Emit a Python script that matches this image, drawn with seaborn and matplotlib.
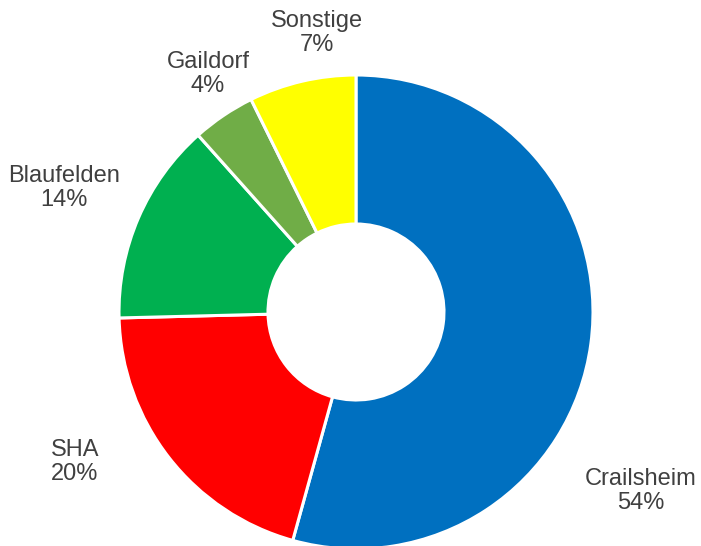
import matplotlib
matplotlib.use("Agg")
import matplotlib.pyplot as plt
import seaborn as sns

# Share of the total by location
locations = ["Crailsheim", "SHA", "Blaufelden", "Gaildorf", "Sonstige"]
shares = [54.3, 20.3, 13.8, 4.3, 7.3]
colors = ["#0070C0", "#FF0000", "#00B050", "#70AD47", "#FFFF00"]

sns.set_theme(style="white")
plt.rcParams["font.family"] = ["Liberation Sans", "DejaVu Sans"]

W, H, DPI = 701, 546, 100
fig = plt.figure(figsize=(W / DPI, H / DPI), dpi=DPI)
ax = fig.add_axes([0, 0, 1, 1])

# pixel geometry of the ring
cx, cy, R = 356, 312, 237
ax.set_xlim(-cx / R, (W - cx) / R)
ax.set_ylim(-(H - cy) / R, cy / R)
ax.axis("off")

ax.pie(
    shares,
    colors=colors,
    startangle=90,
    counterclock=False,
    radius=1.0,
    wedgeprops=dict(width=149 / R, edgecolor="white", linewidth=2.2),
    frame=True,
)
ax.set_xlim(-cx / R, (W - cx) / R)
ax.set_ylim(-(H - cy) / R, cy / R)
ax.set_aspect("auto")
ax.axis("off")

# label anchor points (pixels, measured from the top-left corner)
label_px = [(641, 491), (75, 462), (64, 188), (208, 74), (317, 33)]
for name, val, (px, py) in zip(locations, shares, label_px):
    ax.text(
        (px - cx) / R, (cy - py) / R,
        f"{name}\n{round(val):d}%",
        ha="center", va="center", fontsize=17, color="#404040",
        linespacing=1.15,
    )

fig.savefig("out.png", dpi=DPI)
